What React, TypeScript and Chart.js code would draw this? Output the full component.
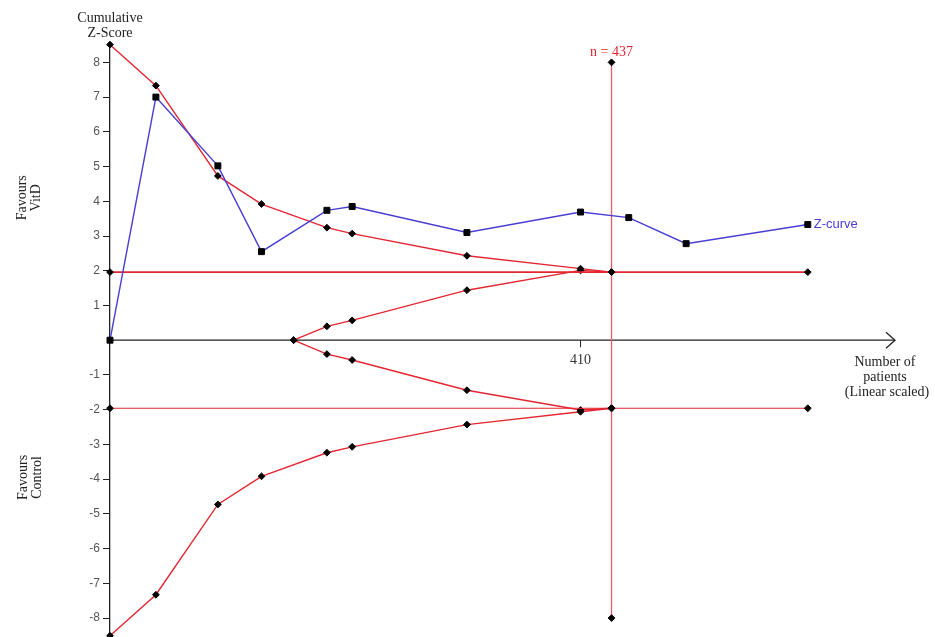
import React, { useEffect, useRef } from "react";
import { Chart, registerables } from "chart.js";

Chart.register(...registerables);

// ---- Data ----
const zCurveX = [0, 40, 94, 132, 189, 211, 311, 410, 452, 502, 608];
const zCurveY = [0, 7.0, 5.02, 2.55, 3.74, 3.85, 3.1, 3.69, 3.53, 2.78, 3.33];

const boundaryX = [0, 40, 94, 132, 189, 211, 311, 410, 437];
const upperBoundaryY = [8.51, 7.33, 4.73, 3.92, 3.24, 3.07, 2.43, 2.06, 1.96];
const lowerBoundaryY = [-8.51, -7.33, -4.73, -3.92, -3.24, -3.07, -2.43, -2.06, -1.96];

const futilityX = [160, 189, 211, 311, 410, 437];
const upperFutilityY = [0, 0.4, 0.57, 1.44, 2.01, 1.96];
const lowerFutilityY = [0, -0.4, -0.57, -1.44, -2.01, -1.96];

const conventionalX = [0, 437, 608];
const conventionalUpperY = [1.96, 1.96, 1.96];
const conventionalLowerY = [-1.96, -1.96, -1.96];

const requiredSize = 437;
const requiredLineY = [8, -8];

const yTickValues = [-8, -7, -6, -5, -4, -3, -2, -1, 1, 2, 3, 4, 5, 6, 7, 8];
const xTickValues = [410];

const Y_MIN = -8.5;
const Y_MAX = 8.5;
const X_MIN = 0;
const X_MAX = 684;

const RED = "rgb(228, 38, 50)";
const BLUE = "rgb(72, 62, 212)";
const SERIF = "'Liberation Serif', 'Times New Roman', serif";
const SANS = "'Liberation Sans', Arial, sans-serif";

const toPoints = (xs: number[], ys: number[]) => xs.map((x, i) => ({ x, y: ys[i] }));

const annotatePlugin = {
  id: "annotate",
  beforeDatasetsDraw(chart: any) {
    const { ctx, scales } = chart;
    const x = scales.x;
    const y = scales.y;
    const y0 = y.getPixelForValue(0);
    const xs = x.getPixelForValue(X_MIN);
    const xe = x.getPixelForValue(X_MAX);
    ctx.save();
    ctx.strokeStyle = "#222";
    ctx.lineWidth = 1.3;
    ctx.beginPath();
    ctx.moveTo(xs, y0);
    ctx.lineTo(xe, y0);
    ctx.stroke();
    ctx.beginPath();
    ctx.moveTo(xe - 9, y0 - 8);
    ctx.lineTo(xe, y0);
    ctx.lineTo(xe - 9, y0 + 8);
    ctx.stroke();
    ctx.lineWidth = 1;
    ctx.fillStyle = "#333";
    ctx.font = `14px ${SERIF}`;
    ctx.textAlign = "center";
    ctx.textBaseline = "middle";
    xTickValues.forEach((t) => {
      const px = x.getPixelForValue(t);
      ctx.beginPath();
      ctx.moveTo(px, y0);
      ctx.lineTo(px, y0 + 7);
      ctx.stroke();
      ctx.fillText(String(t), px, y0 + 20);
    });
    ctx.restore();
  },
  afterDraw(chart: any) {
    const { ctx, scales } = chart;
    const x = scales.x;
    const y = scales.y;
    const y0 = y.getPixelForValue(0);
    const xe = x.getPixelForValue(X_MAX);
    ctx.save();
    ctx.textAlign = "center";
    ctx.textBaseline = "middle";
    ctx.fillStyle = "#222";
    ctx.font = `14px ${SERIF}`;
    // y axis title
    const ax = x.getPixelForValue(0);
    ctx.fillText("Cumulative", ax, 18);
    ctx.fillText("Z-Score", ax, 33);
    // x axis title
    ctx.fillText("Number of", xe - 10, y0 + 22);
    ctx.fillText("patients", xe - 10, y0 + 37);
    ctx.fillText("(Linear scaled)", xe - 8, y0 + 52);
    // side labels
    const side = (lines: string[], cx: number, cy: number) => {
      ctx.save();
      ctx.translate(cx, cy);
      ctx.rotate(-Math.PI / 2);
      ctx.fillText(lines[0], 0, -7);
      ctx.fillText(lines[1], 0, 7);
      ctx.restore();
    };
    side(["Favours", "VitD"], 29, y.getPixelForValue(4.1));
    side(["Favours", "Control"], 30, y.getPixelForValue(-3.95));
    // n = 437
    ctx.fillStyle = RED;
    ctx.fillText(`n = ${requiredSize}`, x.getPixelForValue(requiredSize), y.getPixelForValue(8) - 10);
    // Z-curve label
    const last = zCurveX.length - 1;
    ctx.fillStyle = BLUE;
    ctx.textAlign = "left";
    ctx.font = `13px ${SANS}`;
    ctx.fillText("Z-curve", x.getPixelForValue(zCurveX[last]) + 6, y.getPixelForValue(zCurveY[last]));
    ctx.restore();
  },
};

export default function App() {
  const canvasRef = useRef<HTMLCanvasElement | null>(null);

  useEffect(() => {
    const canvas = canvasRef.current;
    if (!canvas) return;
    const redLine = (data: any[], width: number, color = RED) => ({
      data,
      showLine: true,
      borderColor: color,
      borderWidth: width,
      pointStyle: "rectRot",
      pointRadius: 3.4,
      pointBackgroundColor: "#000",
      pointBorderColor: "#000",
      pointBorderWidth: 1,
      clip: false,
      order: 2,
    });
    const chart = new Chart(canvas, {
      type: "scatter",
      data: {
        datasets: [
          redLine(toPoints(conventionalX, conventionalUpperY), 1.8),
          redLine(toPoints(conventionalX, conventionalLowerY), 1.1),
          redLine(
            requiredLineY.map((v) => ({ x: requiredSize, y: v })),
            1.3,
            "rgb(240, 90, 100)"
          ),
          redLine(toPoints(boundaryX, upperBoundaryY), 1.4),
          redLine(toPoints(boundaryX, lowerBoundaryY), 1.4),
          redLine(toPoints(futilityX, upperFutilityY), 1.4),
          redLine(toPoints(futilityX, lowerFutilityY), 1.4),
          {
            data: toPoints(zCurveX, zCurveY),
            showLine: true,
            borderColor: BLUE,
            borderWidth: 1.4,
            pointStyle: "rect",
            pointRadius: 4.2,
            pointBackgroundColor: "#000",
            pointBorderColor: "#000",
            pointBorderWidth: 1,
            clip: false,
            order: 1,
          },
        ],
      },
      options: {
        animation: false,
        responsive: false,
        devicePixelRatio: 1,
        events: [],
        layout: { autoPadding: false, padding: { left: 70, right: 40, top: 45, bottom: 1.6 } },
        plugins: {
          legend: { display: false },
          tooltip: { enabled: false },
          title: { display: false },
        },
        scales: {
          x: {
            type: "linear",
            min: X_MIN,
            max: X_MAX,
            display: false,
          },
          y: {
            type: "linear",
            min: Y_MIN,
            max: Y_MAX,
            position: "left",
            afterFit: (axis: any) => {
              axis.width = 40;
              axis.paddingTop = 0;
              axis.paddingBottom = 0;
            },
            afterBuildTicks: (axis: any) => {
              axis.ticks = yTickValues.map((v) => ({ value: v }));
            },
            grid: {
              drawOnChartArea: false,
              drawTicks: true,
              tickLength: 7,
              color: "#222",
              lineWidth: 1,
            },
            border: { display: true, color: "#222", width: 1.3 },
            ticks: {
              padding: 3,
              color: "#555",
              font: { family: SANS, size: 12 },
              callback: (v: any) => String(v),
            },
          },
        },
      } as any,
      plugins: [annotatePlugin],
    });
    return () => chart.destroy();
  }, []);

  return (
    <canvas
      ref={canvasRef}
      width={935}
      height={637}
      style={{ position: "fixed", left: 0, top: 0, width: 935, height: 637, background: "#fff" }}
    />
  );
}
